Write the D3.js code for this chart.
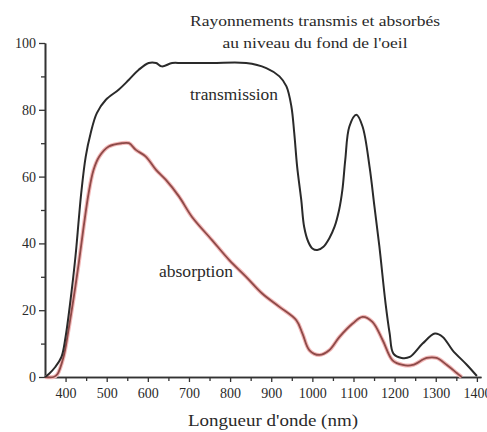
<!DOCTYPE html>
<html>
<head>
<meta charset="utf-8">
<script src="https://cdn.jsdelivr.net/npm/d3@7"></script>
<style>
  body { margin: 0; background: #fff; }
  text { font-family: "Liberation Serif", "Times New Roman", serif; fill: #2a2a2a; }
</style>
</head>
<body>
<div id="chart"></div>
<script>
// wavelength (nm) and transmission (%)
var transNm  = [350, 360, 375, 390, 400, 412, 424, 432, 438, 449, 461, 476, 498, 529, 554, 578, 602, 620, 634, 659, 683, 756, 839, 888, 920, 937, 949, 956, 963, 973, 980, 990, 1000, 1012, 1027, 1041, 1054, 1065, 1073, 1080, 1090, 1107, 1122, 1139, 1151, 1163, 1178, 1188, 1197, 1217, 1237, 1268, 1298, 1317, 1341, 1376, 1400];
var transVal = [0, 1, 3, 6, 12, 23, 36, 47, 55, 66, 73, 79, 83, 86, 89, 92, 94, 94, 93, 94, 94, 94, 94, 92.5, 90, 87, 81, 73, 63, 53, 45, 40.5, 38.5, 38, 39, 41.5, 45, 50, 56, 65, 75, 78.5, 75, 63, 51, 39, 22, 13, 7, 5.7, 6, 10, 13, 12, 8, 3.6, 0.3];

// wavelength (nm) and absorption (%)
var absNm  = [350, 371, 380, 395, 407, 420, 432, 444, 456, 468, 482, 505, 537, 554, 571, 595, 620, 644, 676, 707, 756, 798, 839, 878, 920, 961, 976, 993, 1017, 1041, 1066, 1098, 1122, 1146, 1171, 1195, 1220, 1244, 1278, 1302, 1327, 1351, 1363];
var absVal = [0, 0, 0.8, 6, 14, 24, 34, 45, 55, 62, 66, 69, 70, 70, 68, 66, 62, 59, 54, 48, 41, 35, 30, 25, 21, 17, 13, 8, 6.6, 8, 12, 16, 18, 16.5, 11, 5, 3.6, 3.6, 5.7, 5.7, 3.6, 1.2, 0];

var xMajor = [400, 500, 600, 700, 800, 900, 1000, 1100, 1200, 1300, 1400];
var xMinor = [450, 550, 650, 750, 850, 950, 1050, 1150, 1250, 1350];
var yMajor = [0, 20, 40, 60, 80, 100];
var yMinor = [10, 30, 50, 70, 90];

var titleLines = ["Rayonnements transmis et absorbés", "au niveau du fond de l'oeil"];
var titleWidths = [250, 185];

var width = 487, height = 432;

var svg = d3.select("#chart")
  .append("svg")
  .attr("width", width)
  .attr("height", height);

var x = d3.scaleLinear().domain([350, 1410]).range([45, 481]);
var y = d3.scaleLinear().domain([0, 100]).range([377, 43]);

// axes
svg.append("g")
  .attr("transform", "translate(0," + y(0) + ")")
  .call(d3.axisBottom(x).tickValues(xMajor).tickSize(5).tickSizeOuter(0).tickPadding(6).tickFormat(d3.format("d")));
svg.append("g")
  .attr("transform", "translate(0," + y(0) + ")")
  .call(d3.axisBottom(x).tickValues(xMinor).tickSize(4).tickSizeOuter(0).tickFormat(""));

svg.append("g")
  .attr("transform", "translate(" + x(350) + ",0)")
  .call(d3.axisLeft(y).tickValues(yMajor).tickSize(6).tickSizeOuter(0).tickPadding(3));
svg.append("g")
  .attr("transform", "translate(" + x(350) + ",0)")
  .call(d3.axisLeft(y).tickValues(yMinor).tickSize(4).tickSizeOuter(0).tickFormat(""));

svg.selectAll(".domain").attr("stroke", "#333").attr("stroke-width", 1.6);
svg.selectAll(".tick line").attr("stroke", "#333").attr("stroke-width", 1.3);
svg.selectAll(".tick text")
  .style("font-family", "Liberation Serif")
  .style("font-size", "14px")
  .attr("fill", "#333");

// curves
var line = d3.line()
  .x(function(d) { return x(d[0]); })
  .y(function(d) { return y(d[1]); })
  .curve(d3.curveCatmullRom.alpha(0.5));

var transData = transNm.map(function(n, i) { return [n, transVal[i]]; });
var absData = absNm.map(function(n, i) { return [n, absVal[i]]; });

// faint halo under absorption line
svg.append("path")
  .datum(absData)
  .attr("d", line)
  .attr("fill", "none")
  .attr("stroke", "#f2b8b8")
  .attr("stroke-width", 4);

svg.append("path")
  .datum(absData)
  .attr("d", line)
  .attr("fill", "none")
  .attr("stroke", "#8e4a48")
  .attr("stroke-width", 1.8);

svg.append("path")
  .datum(transData)
  .attr("d", line)
  .attr("fill", "none")
  .attr("stroke", "#2a2a2a")
  .attr("stroke-width", 2);

// title
svg.selectAll(".title")
  .data(titleLines)
  .enter()
  .append("text")
  .attr("class", "title")
  .attr("x", function(d, i) { return 315 - titleWidths[i] / 2; })
  .attr("y", function(d, i) { return 26 + i * 22; })
  .attr("textLength", function(d, i) { return titleWidths[i]; })
  .attr("lengthAdjust", "spacingAndGlyphs")
  .style("font-size", "15.5px")
  .text(function(d) { return d; });

// curve labels
svg.append("text")
  .attr("x", 190)
  .attr("y", 100)
  .attr("textLength", 88)
  .attr("lengthAdjust", "spacingAndGlyphs")
  .style("font-size", "16px")
  .text("transmission");

svg.append("text")
  .attr("x", 159)
  .attr("y", 277)
  .attr("textLength", 74)
  .attr("lengthAdjust", "spacingAndGlyphs")
  .style("font-size", "16px")
  .text("absorption");

// x axis label
svg.append("text")
  .attr("x", 188)
  .attr("y", 426)
  .attr("textLength", 170)
  .attr("lengthAdjust", "spacingAndGlyphs")
  .style("font-size", "17.5px")
  .text("Longueur d'onde (nm)");
</script>
</body>
</html>
